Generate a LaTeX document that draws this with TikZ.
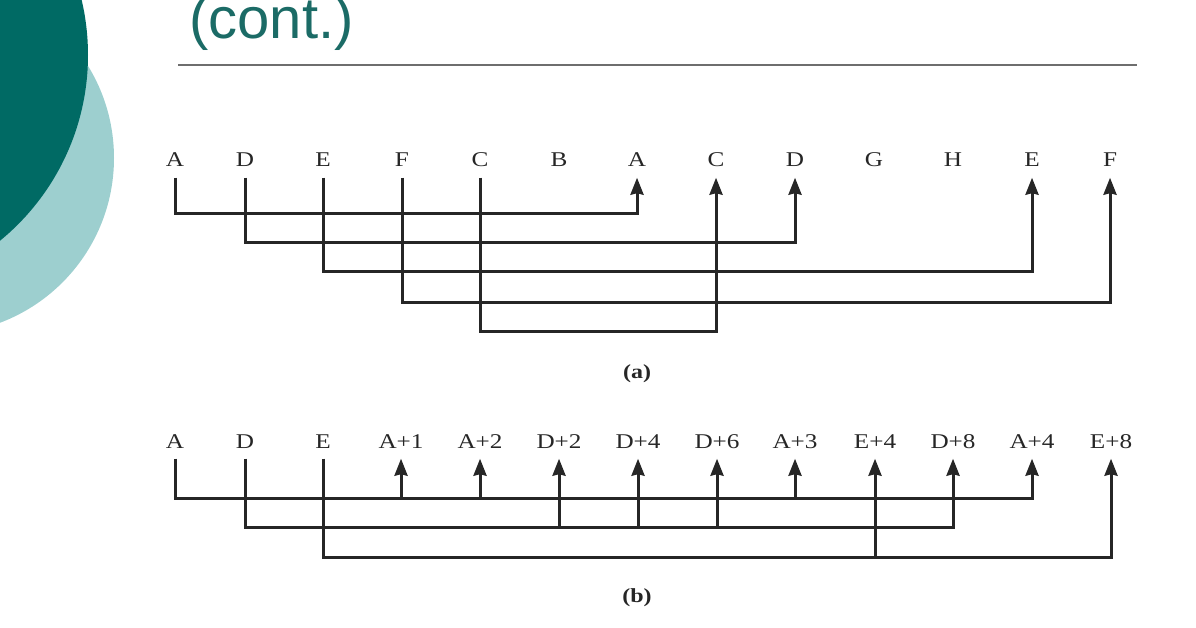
\documentclass[tikz,border=0pt]{standalone}
\usepackage{fontspec}
\setmainfont{Liberation Serif}
\newfontfamily\labfont[FakeStretch=1.2]{Liberation Serif}
\newfontfamily\ttlfont{Liberation Sans}
\usetikzlibrary{arrows.meta}
\definecolor{darkteal}{HTML}{006A64}
\definecolor{paleteal}{HTML}{9DCFCF}
\definecolor{ttlteal}{HTML}{1B6B66}
\definecolor{rulegray}{HTML}{6E6E6E}
\definecolor{ink}{HTML}{262626}
\tikzset{
	lab/.style={font=\labfont\fontsize{21}{21}\selectfont, text=ink,
		text height=14pt, text depth=0pt, inner xsep=0pt, inner ysep=10.5pt},
	sublab/.style={font=\labfont\bfseries\fontsize{20}{20}\selectfont, text=ink},
	wire/.style={draw=ink, line width=3pt},
	arr/.style={wire, -{Stealth[length=17pt,width=13pt,inset=1.5pt]}}
}
\begin{document}
\begin{tikzpicture}[x=1pt, y=-1pt]
\useasboundingbox (0,0) rectangle (1196,628);
% slide decoration
\fill[paleteal] (-62,158) circle (176pt);
\fill[darkteal] (-152,55) circle (240pt);
\node[font=\ttlfont\fontsize{58}{58}\selectfont, text=ttlteal, anchor=base west, inner sep=0pt] (ttl) at (189,39) {(cont.)};
\draw[rulegray, line width=2.5pt] (178,65) -- (1137,65);

% (a)
\node[lab] (a1) at (175,160) {A};
\node[lab] (a2) at (245,160) {D};
\node[lab] (a3) at (323,160) {E};
\node[lab] (a4) at (402,160) {F};
\node[lab] (a5) at (480,160) {C};
\node[lab] (a6) at (559,160) {B};
\node[lab] (a7) at (637,160) {A};
\node[lab] (a8) at (716,160) {C};
\node[lab] (a9) at (795,160) {D};
\node[lab] (a10) at (874,160) {G};
\node[lab] (a11) at (953,160) {H};
\node[lab] (a12) at (1032,160) {E};
\node[lab] (a13) at (1110,160) {F};
\coordinate (lvA) at (0,214);
\coordinate (lvD) at (0,243);
\coordinate (lvE) at (0,272);
\coordinate (lvF) at (0,302);
\coordinate (lvC) at (0,331);
\draw[arr] (a1.south) -- (a1.south |- lvA) -| (a7.south);
\draw[arr] (a2.south) -- (a2.south |- lvD) -| (a9.south);
\draw[arr] (a3.south) -- (a3.south |- lvE) -| (a12.south);
\draw[arr] (a4.south) -- (a4.south |- lvF) -| (a13.south);
\draw[arr] (a5.south) -- (a5.south |- lvC) -| (a8.south);
\node[sublab] (suba) at (637,374) {(a)};

% (b)
\node[lab] (b1) at (175,441) {A};
\node[lab] (b2) at (245,441) {D};
\node[lab] (b3) at (323,441) {E};
\node[lab] (b4) at (401,441) {A+1};
\node[lab] (b5) at (480,441) {A+2};
\node[lab] (b6) at (559,441) {D+2};
\node[lab] (b7) at (638,441) {D+4};
\node[lab] (b8) at (717,441) {D+6};
\node[lab] (b9) at (795,441) {A+3};
\node[lab] (b10) at (875,441) {E+4};
\node[lab] (b11) at (953,441) {D+8};
\node[lab] (b12) at (1032,441) {A+4};
\node[lab] (b13) at (1111,441) {E+8};
\coordinate (lbA) at (0,498);
\coordinate (lbD) at (0,527);
\coordinate (lbE) at (0,557);
\draw[arr] (b1.south) -- (b1.south |- lbA) -| (b12.south);
\draw[arr] (b2.south) -- (b2.south |- lbD) -| (b11.south);
\draw[arr] (b3.south) -- (b3.south |- lbE) -| (b13.south);
\draw[arr] (b4.south |- lbA) -- (b4.south);
\draw[arr] (b5.south |- lbA) -- (b5.south);
\draw[arr] (b9.south |- lbA) -- (b9.south);
\draw[arr] (b6.south |- lbD) -- (b6.south);
\draw[arr] (b7.south |- lbD) -- (b7.south);
\draw[arr] (b8.south |- lbD) -- (b8.south);
\draw[arr] (b10.south |- lbE) -- (b10.south);
\node[sublab] (subb) at (637,598) {(b)};
\end{tikzpicture}
\end{document}
